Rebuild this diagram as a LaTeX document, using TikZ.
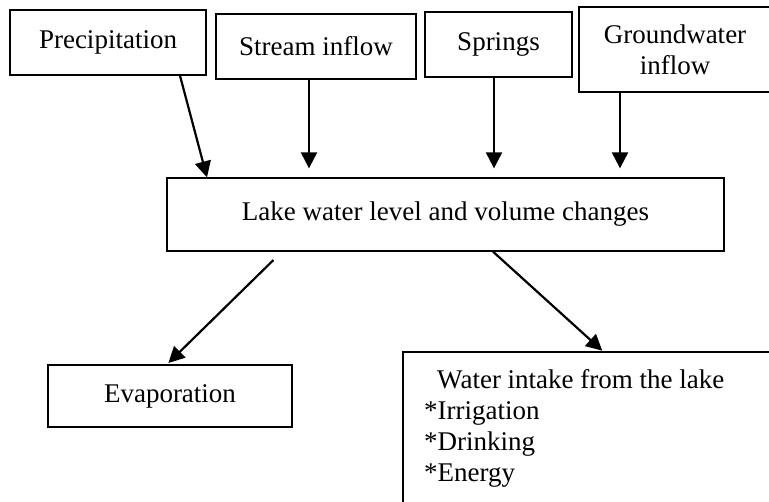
\documentclass[tikz,border=0pt]{standalone}
\usepackage{fontspec}
\setmainfont{Liberation Serif}
\usetikzlibrary{arrows.meta}
\begin{document}
\begin{tikzpicture}[x=1pt,y=-1pt,
  box/.style={draw,line width=1.3pt,inner sep=0pt,font=\fontsize{27}{31}\selectfont,align=center},
  txt/.style={inner sep=0pt,font=\fontsize{27}{31}\selectfont,align=left},
  flow/.style={line width=2.2pt,-{Triangle[width=16pt,length=16pt]}}]
\useasboundingbox[fill=white] (0,0) rectangle (769,502);
\node[box,minimum width=196pt,minimum height=65pt] (prec) at (108,42.5) {Precipitation};
\node[box,minimum width=200pt,minimum height=65pt] (stream) at (316,46.5) {Stream inflow};
\node[box,minimum width=147pt,minimum height=65pt] (springs) at (498.5,44.5) {Springs};
\node[box,minimum width=192pt,minimum height=85pt] (ground) at (675,49.5) {Groundwater\\inflow};
\node[box,minimum width=557pt,minimum height=73pt] (lake) at (445.5,214.5) {Lake water level and volume changes};
\node[box,minimum width=244pt,minimum height=62pt] (evap) at (170,396) {Evaporation};
\node[box,minimum width=390pt,minimum height=180pt] (intake) at (598,442) {};
\node[txt,anchor=north west] (intaketext) at (424,369.5) {\hspace*{13pt}Water intake from the lake\\*Irrigation\\*Drinking\\*Energy};
\draw[flow] ([xshift=72pt]prec.south) -- ([xshift=-238.5pt]lake.north);
\draw[flow,shorten >=9pt] ([xshift=-7pt]stream.south) -- ([xshift=-136.5pt]lake.north);
\draw[flow,shorten >=9pt] ([xshift=-4.5pt]springs.south) -- ([xshift=48.5pt]lake.north);
\draw[flow,shorten >=9pt] ([xshift=-55pt]ground.south) -- ([xshift=174.5pt]lake.north);
\draw[flow,shorten <=12pt,shorten >=2pt] ([xshift=-163.5pt]lake.south) -- ([xshift=-3pt]evap.north);
\draw[flow,shorten >=1pt] ([xshift=47.5pt]lake.south) -- ([xshift=5pt]intake.north);
\end{tikzpicture}
\end{document}
